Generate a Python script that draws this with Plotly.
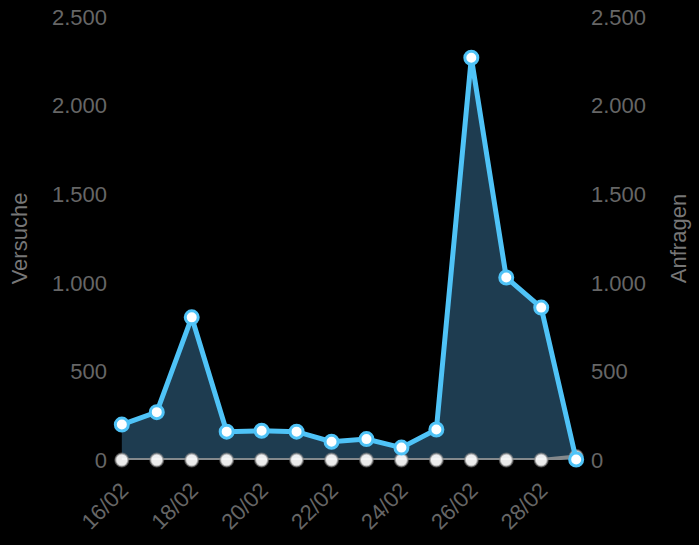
import plotly.graph_objects as go
import pandas as pd

dates = pd.date_range("2023-02-16", "2023-03-01", freq="D")
versuche = [200, 270, 805, 160, 165, 160, 103, 118, 70, 172, 2270, 1030, 860, 3]
anfragen = [0, 0, 0, 0, 0, 0, 0, 0, 0, 0, 0, 0, 0, 20]
tick_dates = pd.date_range("2023-02-16", "2023-02-28", freq="2D")
tick_labels = ["16/02", "18/02", "20/02", "22/02", "24/02", "26/02", "28/02"]
y_ticks = [0, 500, 1000, 1500, 2000, 2500]

tick_col = "#666666"
font = "Liberation Sans, Arial, sans-serif"

fig = go.Figure()
# Versuche area
fig.add_trace(go.Scatter(
    x=dates, y=versuche, mode="none", fill="tozeroy", fillcolor="#1e3c50",
    hoverinfo="skip", showlegend=False,
))
# Anfragen (same 0-2500 scale as the right axis)
fig.add_trace(go.Scatter(
    x=dates, y=anfragen, mode="lines+markers",
    line=dict(color="rgba(150,150,150,0.85)", width=4),
    marker=dict(size=13, color="rgba(255,255,255,0.92)",
                line=dict(color="rgba(130,130,130,0.6)", width=2)),
    cliponaxis=False, showlegend=False,
))
# Versuche line
fig.add_trace(go.Scatter(
    x=dates, y=versuche, mode="lines+markers",
    line=dict(color="#4fc3f7", width=5),
    marker=dict(size=13, color="white", line=dict(color="#4fc3f7", width=3)),
    cliponaxis=False, showlegend=False,
))
# right axis reference for Anfragen
fig.add_trace(go.Scatter(
    x=dates, y=anfragen, yaxis="y2", mode="lines",
    line=dict(width=0), opacity=0, hoverinfo="skip", showlegend=False,
))

xr = [dates[0] - pd.Timedelta(hours=9.5), dates[-1] + pd.Timedelta(hours=9.5)]
fig.update_layout(
    width=699, height=545,
    paper_bgcolor="black", plot_bgcolor="black",
    margin=dict(l=108, r=109, t=17, b=85),
    separators=",.",
    font=dict(family=font, size=22, color=tick_col),
    xaxis=dict(
        type="date", range=xr, tickvals=tick_dates, ticktext=tick_labels,
        tickangle=-45, showgrid=False, zeroline=False, automargin=False,
        showline=False, ticks="", ticklabelstandoff=12,
        tickfont=dict(size=22, color=tick_col),
    ),
    yaxis=dict(
        range=[0, 2500], tickvals=y_ticks, automargin=False,
        tickformat=",d", showgrid=False, zeroline=False, ticks="",
        title=dict(text="Versuche", font=dict(size=22, color="#777777"), standoff=18),
        tickfont=dict(size=22, color=tick_col),
    ),
    yaxis2=dict(
        range=[0, 2500], tickvals=y_ticks, automargin=False,
        tickformat=",d", overlaying="y", side="right", showgrid=False,
        zeroline=False, ticks="",
        title=dict(text="Anfragen", font=dict(size=22, color="#777777"), standoff=25),
        tickfont=dict(size=22, color=tick_col),
    ),
)
fig.write_html(
    "out.html",
    config={"displayModeBar": False},
    post_script="document.body.style.margin='0';document.body.style.background='black';",
)
